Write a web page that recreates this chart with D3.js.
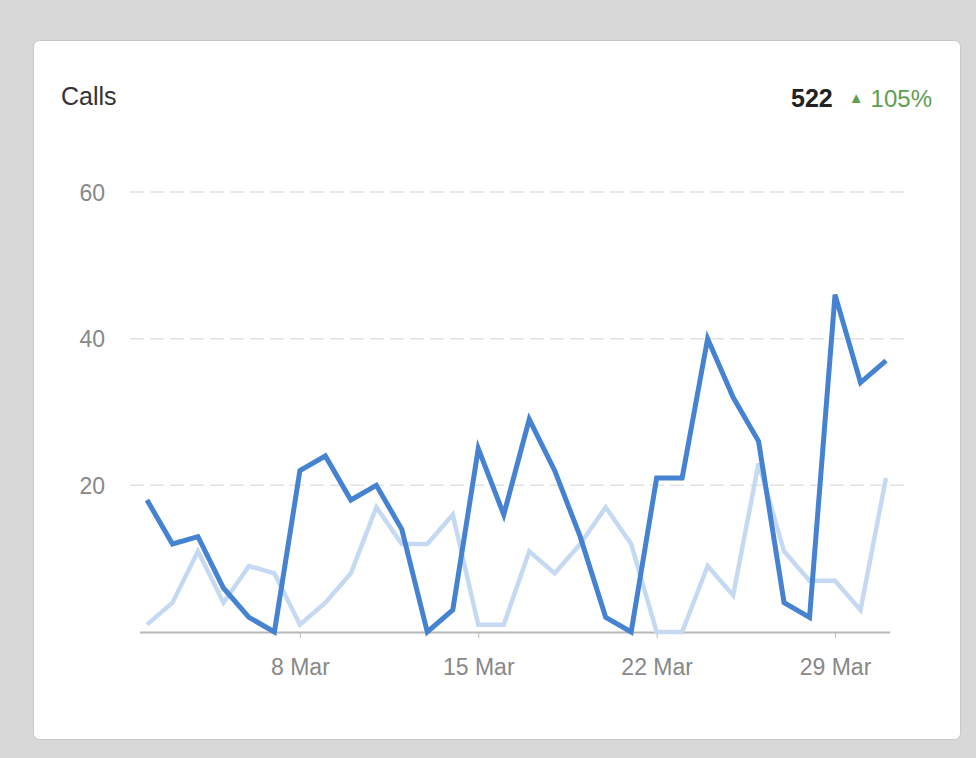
<!DOCTYPE html>
<html><head><meta charset="utf-8">
<script src="https://cdn.jsdelivr.net/npm/d3@7"></script>
<style>
html,body{margin:0;padding:0;background:#d8d8d8;}
svg{display:block;font-family:"Liberation Sans",Arial,sans-serif;}
</style></head>
<body><svg id="c" width="976" height="758"></svg>
<script>
const days = d3.range(2, 32); // 2 Mar .. 31 Mar
const current = [18,12,13,6,2,0,22,24,18,20,14,0,3,25,16,29,22,13,2,0,21,21,40,32,26,4,2,46,34,37];
const previous = [1,4,11,4,9,8,1,4,8,17,12,12,16,1,1,11,8,12,17,12,0,0,9,5,23,11,7,7,3,21];
const yTicks = [20,40,60];
const xTickDays = [8,15,22,29];
const title = "Calls";
const total = "522";
const change = "105%";

const svg = d3.select("#c");
svg.append("rect").attr("x",33.5).attr("y",40.5).attr("width",927).attr("height",699)
  .attr("rx",6).attr("fill","#fff").attr("stroke","#c8c8c8");

svg.append("text").attr("x",61).attr("y",105).attr("font-size",25).attr("fill","#333").text(title);
const hdr = svg.append("text").attr("x",932).attr("y",107).attr("text-anchor","end").attr("font-size",24);
hdr.append("tspan").attr("font-weight","bold").attr("fill","#222").attr("font-size",25).text(total);
hdr.append("tspan").attr("fill","#5e9e50").attr("font-size",15).attr("dx",16).attr("dy",-4).text("▲");
hdr.append("tspan").attr("fill","#5e9e50").attr("dx",7).attr("dy",4).text(change);

const parse = d => new Date(2020,2,d);
const x = d3.scaleTime().domain([parse(2), parse(31)]).range([147, 886]);
const y = d3.scaleLinear().domain([0,60]).range([632,192]);

const grid = svg.append("g");
grid.selectAll("line").data(yTicks).join("line")
  .attr("x1",130).attr("x2",905).attr("y1",d=>y(d)).attr("y2",d=>y(d))
  .attr("stroke","#e2e2e2").attr("stroke-width",1.5).attr("stroke-dasharray","14,6");

svg.append("g").selectAll("text").data(yTicks).join("text")
  .attr("x",105).attr("y",d=>y(d)+8.5).attr("text-anchor","end")
  .attr("font-size",23).attr("fill","#888").text(d=>d);

const xa = svg.append("g").attr("transform","translate(0,632)")
  .call(d3.axisBottom(x).tickValues(xTickDays.map(parse)).tickSize(6).tickPadding(21)
    .tickFormat(d3.timeFormat("%-d %b")));
xa.select(".domain").remove();
xa.selectAll(".tick line").attr("stroke","#bbb");
xa.selectAll(".tick text").attr("font-size",23).attr("fill","#888").attr("font-family","Liberation Sans, Arial, sans-serif");
svg.append("line").attr("x1",140).attr("x2",890).attr("y1",632.5).attr("y2",632.5)
  .attr("stroke","#b8b8b8").attr("stroke-width",2);

const line = d3.line().x((d,i)=>x(parse(days[i]))).y(d=>y(d));
svg.append("path").datum(previous).attr("d",line).attr("fill","none")
  .attr("stroke","#c5daf2").attr("stroke-width",4.5).attr("stroke-linejoin","miter");
svg.append("path").datum(current).attr("d",line).attr("fill","none")
  .attr("stroke","#4583d2").attr("stroke-width",5).attr("stroke-linejoin","miter");
</script></body></html>
